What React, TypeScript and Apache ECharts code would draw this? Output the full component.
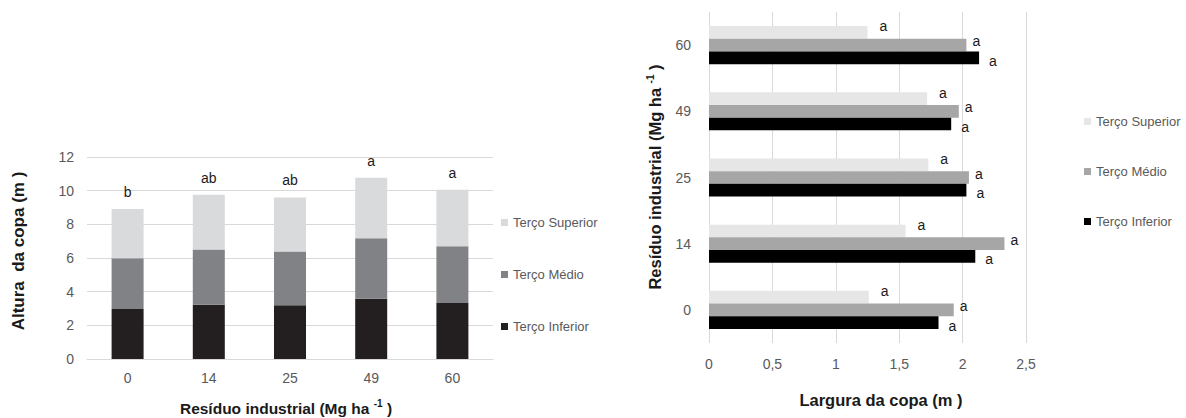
import React, { useEffect, useRef } from 'react';
import * as echarts from 'echarts';

// Left chart: Altura da copa (stacked)
const heightCategories = ['0', '14', '25', '49', '60'];
const heightInferior = [2.97, 3.23, 3.19, 3.58, 3.33];
const heightMedio = [3.01, 3.27, 3.19, 3.59, 3.37];
const heightSuperior = [2.93, 3.26, 3.22, 3.6, 3.36];
const heightLetters = ['b', 'ab', 'ab', 'a', 'a'];

// Right chart: Largura da copa (grouped horizontal)
const widthCategories = ['0', '14', '25', '49', '60'];
const widthSuperior = [1.26, 1.55, 1.73, 1.72, 1.25];
const widthMedio = [1.93, 2.33, 2.05, 1.97, 2.03];
const widthInferior = [1.81, 2.1, 2.03, 1.91, 2.13];
const widthLetters = ['a', 'a', 'a', 'a', 'a'];

const seriesNames = ['Terço Superior', 'Terço Médio', 'Terço Inferior'];

const FONT = '"Liberation Sans", Arial, sans-serif';
const GRID = '#d9d9d9';
const TICK = '#595959';

export default function App() {
  const ref = useRef<HTMLDivElement>(null);
  useEffect(() => {
    if (!ref.current) return;
    const chart = echarts.init(ref.current, undefined, { renderer: 'svg' });
    const sup = { fontSize: 10, fontWeight: 'bold', fontFamily: FONT, color: '#1a1a1a', padding: [0, 0, 9, 0] };
    const titleStyle = { fontSize: 16.5, fontWeight: 'bold', fontFamily: FONT, fill: '#1a1a1a' };
    chart.setOption({
      animation: false,
      textStyle: { fontFamily: FONT },
      grid: [
        { left: 87, top: 157, width: 406, height: 202 },
        { left: 709, top: 12, width: 317, height: 331 },
      ],
      legend: [
        {
          orient: 'vertical', left: 496, top: 211, itemWidth: 7, itemHeight: 7, itemGap: 39, icon: 'rect',
          textStyle: { color: TICK, fontSize: 13, fontFamily: FONT },
          selectedMode: false,
          data: [
            { name: seriesNames[0], itemStyle: { color: '#d9dadb' } },
            { name: seriesNames[1], itemStyle: { color: '#808285' } },
            { name: seriesNames[2], itemStyle: { color: '#231f20' } },
          ],
        },
        {
          orient: 'vertical', left: 1079, top: 110, itemWidth: 7, itemHeight: 7, itemGap: 37, icon: 'rect',
          textStyle: { color: TICK, fontSize: 13, fontFamily: FONT },
          selectedMode: false,
          data: [
            { name: seriesNames[0], itemStyle: { color: '#e6e6e6' } },
            { name: seriesNames[1], itemStyle: { color: '#a6a6a6' } },
            { name: seriesNames[2], itemStyle: { color: '#000000' } },
          ],
        },
      ],
      xAxis: [
        {
          gridIndex: 0, type: 'category', data: heightCategories,
          axisLine: { show: true, lineStyle: { color: GRID } }, axisTick: { show: false },
          axisLabel: { color: TICK, fontSize: 14, margin: 12 },
        },
        {
          gridIndex: 1, type: 'value', min: 0, max: 2.5, interval: 0.5,
          axisLine: { show: false }, axisTick: { show: false },
          splitLine: { lineStyle: { color: GRID } },
          axisLabel: { color: TICK, fontSize: 14, margin: 14, formatter: (v: number) => String(v).replace('.', ',') },
        },
      ],
      yAxis: [
        {
          gridIndex: 0, type: 'value', min: 0, max: 12, interval: 2,
          axisLine: { show: false }, axisTick: { show: false },
          splitLine: { lineStyle: { color: GRID } },
          axisLabel: { color: TICK, fontSize: 14, margin: 13 },
        },
        {
          gridIndex: 1, type: 'category', data: widthCategories,
          axisLine: { show: false }, axisTick: { show: false },
          axisLabel: { color: TICK, fontSize: 14, margin: 18 },
        },
      ],
      series: [
        { name: seriesNames[2], type: 'bar', stack: 'h', xAxisIndex: 0, yAxisIndex: 0, barWidth: 32, data: heightInferior, itemStyle: { color: '#231f20' } },
        { name: seriesNames[1], type: 'bar', stack: 'h', xAxisIndex: 0, yAxisIndex: 0, barWidth: 32, data: heightMedio, itemStyle: { color: '#808285' } },
        {
          name: seriesNames[0], type: 'bar', stack: 'h', xAxisIndex: 0, yAxisIndex: 0, barWidth: 32, data: heightSuperior, itemStyle: { color: '#d9dadb' },
          label: { show: true, position: 'top', distance: 10, fontSize: 14, color: '#1a1a1a', formatter: (p: any) => heightLetters[p.dataIndex] },
        },
        {
          name: seriesNames[0], type: 'bar', xAxisIndex: 1, yAxisIndex: 1, barWidth: 12.7, barGap: '0%', data: widthSuperior, itemStyle: { color: '#e6e6e6' },
          label: { show: true, position: 'right', distance: 12, offset: [0, -6], fontSize: 14, color: '#1a1a1a', formatter: (p: any) => widthLetters[p.dataIndex] },
        },
        {
          name: seriesNames[1], type: 'bar', xAxisIndex: 1, yAxisIndex: 1, barWidth: 12.7, barGap: '0%', data: widthMedio, itemStyle: { color: '#a6a6a6' },
          label: { show: true, position: 'right', distance: 6, offset: [0, -4], fontSize: 14, color: '#1a1a1a', formatter: (p: any) => widthLetters[p.dataIndex] },
        },
        {
          name: seriesNames[2], type: 'bar', xAxisIndex: 1, yAxisIndex: 1, barWidth: 12.7, barGap: '0%', data: widthInferior, itemStyle: { color: '#000000' },
          label: { show: true, position: 'right', distance: 10, offset: [0, 3], fontSize: 14, color: '#1a1a1a', formatter: (p: any) => widthLetters[p.dataIndex] },
        },
      ],
      graphic: [
        {
          type: 'text', x: 18, y: 251, rotation: Math.PI / 2,
          style: { ...titleStyle, fontSize: 17, text: 'Altura  da copa (m )', align: 'center', verticalAlign: 'middle' },
        },
        {
          type: 'text', x: 286, y: 408,
          style: { ...titleStyle, fontSize: 15.5, text: 'Resíduo industrial (Mg ha {sup|-1} )', align: 'center', verticalAlign: 'middle', rich: { sup } },
        },
        {
          type: 'text', x: 655, y: 177, rotation: Math.PI / 2,
          style: { ...titleStyle, text: 'Resíduo industrial (Mg ha {sup|-1} )', align: 'center', verticalAlign: 'middle', rich: { sup } },
        },
        {
          type: 'text', x: 881, y: 400,
          style: { ...titleStyle, text: 'Largura da copa (m )', align: 'center', verticalAlign: 'middle' },
        },
      ],
    });
    return () => chart.dispose();
  }, []);
  return <div ref={ref} style={{ position: 'absolute', left: 0, top: 0, width: 1186, height: 418 }} />;
}
